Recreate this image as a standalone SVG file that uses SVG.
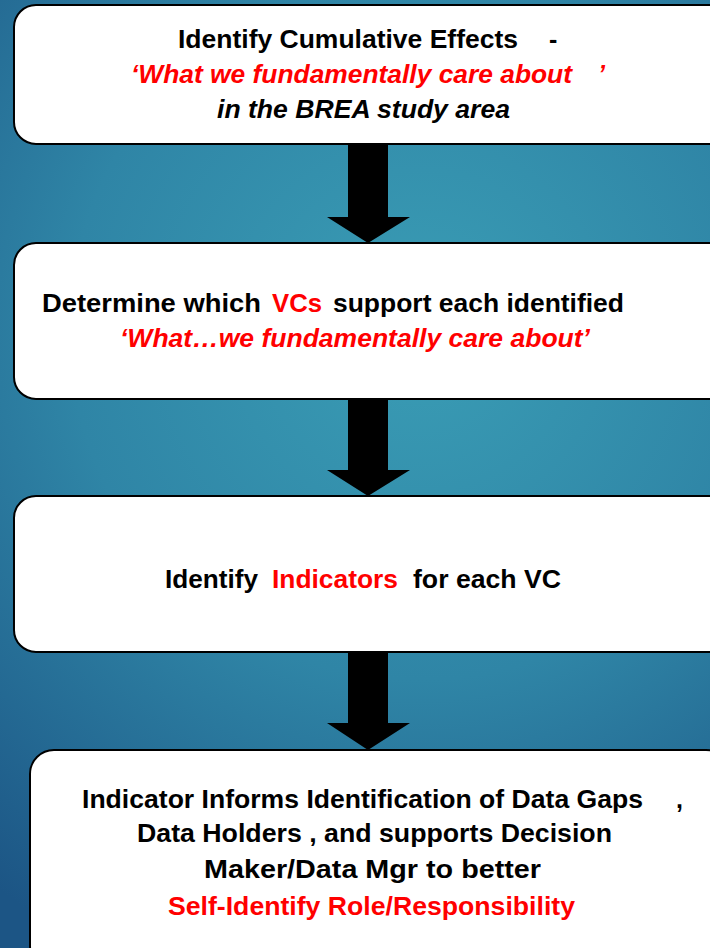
<svg xmlns="http://www.w3.org/2000/svg" width="710" height="948" viewBox="0 0 710 948">
<defs>
<radialGradient id="bg" cx="420" cy="330" r="700" gradientUnits="userSpaceOnUse">
<stop offset="0" stop-color="#3a9db5"/>
<stop offset="0.5" stop-color="#2f85a6"/>
<stop offset="1" stop-color="#1c5585"/>
</radialGradient>
<style>
.box{fill:#fff;stroke:#000;stroke-width:2}
.t{font-family:"Liberation Sans",Arial,sans-serif;font-weight:bold;font-size:25px;fill:#000}
.r{fill:#ff0000}
.i{font-style:italic}
.arrow{fill:#000}
</style>
</defs>
<rect width="710" height="948" fill="url(#bg)"/>
<g id="connectors">
<polygon class="arrow" points="348,144 388,144 388,217 410,217 368,243 327,217 348,217"/>
<polygon class="arrow" points="348,399 388,399 388,470 410,470 368,496 327,470 348,470"/>
<polygon class="arrow" points="348,652 388,652 388,723 410,723 368,750 327,723 348,723"/>
</g>
<g id="node1">
<rect class="box" x="14" y="5" width="716" height="139" rx="22"/>
<text class="t" x="178" y="48" textLength="340" lengthAdjust="spacingAndGlyphs">Identify Cumulative Effects</text>
<text class="t" x="549" y="48">-</text>
<text class="t r i" x="131" y="83" textLength="441" lengthAdjust="spacingAndGlyphs">‘What we fundamentally care about</text>
<text class="t r i" x="598" y="83">’</text>
<text class="t i" x="217" y="118" textLength="293" lengthAdjust="spacingAndGlyphs">in the BREA study area</text>
</g>
<g id="node2">
<rect class="box" x="14" y="243" width="716" height="156" rx="22"/>
<text class="t" x="42" y="312" textLength="219" lengthAdjust="spacingAndGlyphs">Determine  which</text>
<text class="t r" x="272" y="312" textLength="50" lengthAdjust="spacingAndGlyphs">VCs</text>
<text class="t" x="333" y="312" textLength="291" lengthAdjust="spacingAndGlyphs">support each identified</text>
<text class="t r i" x="120" y="347" textLength="470" lengthAdjust="spacingAndGlyphs">‘What…we fundamentally care about’</text>
</g>
<g id="node3">
<rect class="box" x="14" y="496" width="716" height="156" rx="22"/>
<text class="t" x="165" y="588" textLength="93" lengthAdjust="spacingAndGlyphs">Identify</text>
<text class="t r" x="272" y="588" textLength="126" lengthAdjust="spacingAndGlyphs">Indicators</text>
<text class="t" x="413" y="588" textLength="148" lengthAdjust="spacingAndGlyphs">for each VC</text>
</g>
<g id="node4">
<rect x="32" y="752" width="700" height="220" rx="24" fill="#000"/>
<rect class="box" x="30" y="750" width="700" height="220" rx="24"/>
<text class="t" x="82" y="808" textLength="561" lengthAdjust="spacingAndGlyphs">Indicator Informs Identification of Data Gaps</text>
<text class="t" x="676" y="808">,</text>
<text class="t" x="137" y="842" textLength="475" lengthAdjust="spacingAndGlyphs">Data Holders  , and supports Decision</text>
<text class="t" x="204" y="878" textLength="337" lengthAdjust="spacingAndGlyphs">Maker/Data Mgr to better</text>
<text class="t r" x="168" y="915" textLength="407" lengthAdjust="spacingAndGlyphs">Self-Identify Role/Responsibility</text>
</g>
</svg>
